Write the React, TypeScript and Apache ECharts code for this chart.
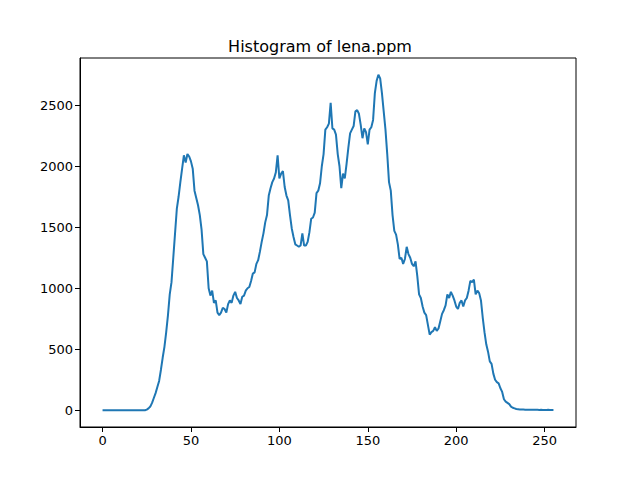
import React, { useEffect, useRef } from "react";
import * as echarts from "echarts";

const counts: number[] = [
  0,0,0,0,0,0,0,0,0,0, 0,0,0,0,0,0,0,0,0,0, 0,0,0,0,0,5,15,30,60,100,
  140,190,240,330,430,520,640,780,950,1050, 1250,1450,1650,1750,1870,1980,2090,2030,2100,2080,
  2040,1980,1800,1740,1680,1600,1480,1280,1250,1220, 1000,940,980,880,900,800,780,800,840,830,
  800,870,900,880,940,970,920,900,870,930, 940,980,1000,1010,1060,1120,1130,1200,1230,1300,
  1380,1450,1540,1600,1760,1820,1870,1900,1950,2090, 1900,1940,1960,1830,1760,1720,1600,1490,1420,1360,
  1350,1340,1350,1450,1350,1350,1380,1460,1570,1580, 1620,1780,1800,1860,2000,2100,2300,2320,2350,2520,
  2310,2300,2260,2100,2000,1820,1940,1900,2020,2150, 2270,2300,2330,2450,2460,2430,2340,2230,2310,2280,
  2180,2300,2320,2380,2600,2700,2750,2720,2600,2450, 2300,2100,1870,1800,1600,1470,1440,1360,1240,1250,
  1200,1240,1340,1280,1250,1200,1180,1220,1100,950, 920,850,800,780,700,620,640,650,680,650,
  670,730,790,820,860,950,920,970,940,900, 850,830,880,900,850,900,920,980,1060,1050,
  1070,950,980,960,900,760,640,540,480,400, 380,300,250,230,220,180,150,90,70,60,
  50,30,20,15,10,8,6,5,5,4, 4,3,3,3,4,3,3,2,3,2, 2,2,3,2,2,2
];
const xTicks = [0, 50, 100, 150, 200, 250];
const yTicks = [0, 500, 1000, 1500, 2000, 2500];
const title = "Histogram of lena.ppm";

export default function App() {
  const ref = useRef<HTMLDivElement>(null);
  useEffect(() => {
    document.body.style.margin = "0";
    const chart = echarts.init(ref.current!, null, { renderer: "svg" });
    const font = "DejaVu Sans";
    const axisCommon = (ticks: number[]) => ({
      axisLine: { show: true, onZero: false, lineStyle: { color: "#000", width: 1 } },
      splitLine: { show: false },
      axisTick: { show: true, inside: false, length: 5, lineStyle: { color: "#000" }, customValues: ticks },
      axisLabel: { fontFamily: font, fontSize: 13, color: "#000", margin: 7, customValues: ticks, formatter: (v: number) => String(v) },
    });
    chart.setOption({
      animation: false,
      title: {
        text: title, left: "center", top: 33,
        textStyle: { fontFamily: font, fontSize: 16, fontWeight: "normal", color: "#000" },
      },
      grid: { left: 80, top: 58, width: 496, height: 369, show: true, borderColor: "#000", borderWidth: 1, backgroundColor: "transparent" },
      xAxis: { type: "value", min: -12.75, max: 267.75, ...axisCommon(xTicks) },
      yAxis: { type: "value", min: -137.5, max: 2887.5, ...axisCommon(yTicks) },
      series: [{
        type: "line",
        data: counts.map((v, i) => [i, v]),
        showSymbol: false,
        lineStyle: { color: "#1f77b4", width: 2 },
      }],
    });
    return () => chart.dispose();
  }, []);
  return <div ref={ref} style={{ width: 640, height: 480 }} />;
}
